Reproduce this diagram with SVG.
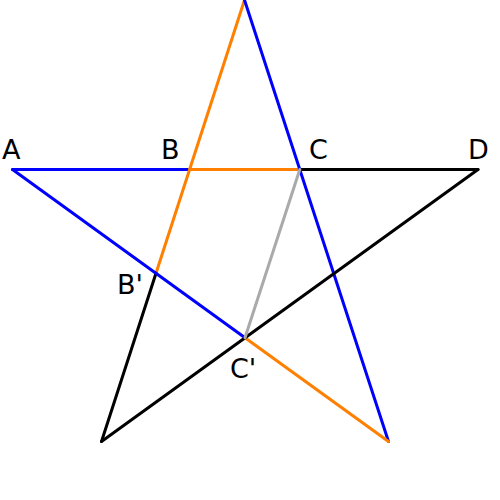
<svg xmlns="http://www.w3.org/2000/svg" width="500" height="500" viewBox="0 0 500 500">
<style>
line{stroke-width:3;stroke-linecap:round}
.b{stroke:#0000ff}.o{stroke:#ff8000}.k{stroke:#000}.g{stroke:#aaaaaa}
text{font-family:"DejaVu Sans",sans-serif;font-size:27px;fill:#000}
</style>
<rect width="500" height="500" fill="#fff"/>
<g id="connectors">
<line class="b" x1="12.5" y1="169.5" x2="189.6" y2="169.5"/>
<line class="o" x1="189.6" y1="169.5" x2="299.8" y2="169.5"/>
<line class="k" x1="299.8" y1="169.5" x2="478" y2="169.5"/>
<line class="o" x1="244.5" y1="0" x2="156" y2="273.3"/>
<line class="k" x1="156" y1="273.3" x2="101.5" y2="441.5"/>
<line class="b" x1="244.5" y1="0" x2="388.5" y2="441.5"/>
<line class="b" x1="12.5" y1="169.5" x2="245" y2="337.7"/>
<line class="o" x1="245" y1="337.7" x2="388.5" y2="441.5"/>
<line class="k" x1="478" y1="169.5" x2="101.5" y2="441.5"/>
<line class="g" x1="299.8" y1="169.5" x2="245" y2="337.7"/>
</g>
<g id="A"><text x="2" y="159">A</text></g>
<g id="B"><text x="161" y="159">B</text></g>
<g id="C"><text x="309" y="159">C</text></g>
<g id="D"><text x="468" y="159">D</text></g>
<g id="Bp"><text x="117" y="294">B'</text></g>
<g id="Cp"><text x="230" y="378">C'</text></g>
</svg>
